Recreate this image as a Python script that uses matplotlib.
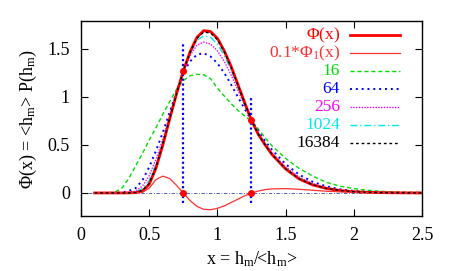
import matplotlib
matplotlib.use("Agg")
import matplotlib.pyplot as plt
from matplotlib.lines import Line2D

x = [0.1, 0.2, 0.25, 0.3, 0.35, 0.4, 0.45, 0.5, 0.55, 0.6, 0.65, 0.7, 0.75, 0.8,
     0.85, 0.9, 0.95, 1.0, 1.05, 1.1, 1.15, 1.2, 1.25, 1.3, 1.35, 1.4, 1.5, 1.6,
     1.7, 1.8, 1.9, 2.0, 2.1, 2.2, 2.3, 2.4, 2.5]

phi = [0, 0, 0, 0, 0.0005, 0.003, 0.02, 0.09, 0.26, 0.5, 0.77, 1.03, 1.27, 1.47,
       1.62, 1.69, 1.68, 1.61, 1.48, 1.32, 1.13, 0.94, 0.755, 0.61, 0.5, 0.40, 0.25, 0.145,
       0.083, 0.046, 0.025, 0.013, 0.007, 0.003, 0.0015, 0.0007, 0.0003]

phi1 = [0, 0, 0, 0, 0, 0, 0.005, 0.05, 0.14, 0.175, 0.15, 0.08, 0.0, -0.08,
        -0.14, -0.17, -0.175, -0.16, -0.135, -0.1, -0.065, -0.03, 0.0, 0.02, 0.035, 0.042, 0.045, 0.038,
        0.028, 0.018, 0.011, 0.006, 0.003, 0.0015, 0.0007, 0.0003, 0.0001]

n16 = [0, 0.002, 0.01, 0.05, 0.15, 0.28, 0.41, 0.55, 0.68, 0.82, 0.95, 1.08, 1.17, 1.22,
       1.235, 1.23, 1.19, 1.09, 1.01, 0.93, 0.86, 0.8, 0.75, 0.665, 0.575, 0.49, 0.36, 0.255,
       0.175, 0.11, 0.07, 0.045, 0.028, 0.017, 0.01, 0.006, 0.004]

n64 = [0, 0, 0, 0.005, 0.02, 0.05, 0.13, 0.27, 0.44, 0.63, 0.84, 1.05, 1.25, 1.37,
       1.44, 1.455, 1.42, 1.35, 1.25, 1.13, 1.0, 0.875, 0.755, 0.64, 0.54, 0.45, 0.3, 0.19,
       0.115, 0.068, 0.038, 0.021, 0.011, 0.006, 0.003, 0.0015, 0.0007]

n256 = [0, 0, 0, 0.001, 0.005, 0.02, 0.07, 0.18, 0.35, 0.56, 0.8, 1.04, 1.26, 1.43,
        1.54, 1.57, 1.55, 1.48, 1.37, 1.23, 1.07, 0.91, 0.755, 0.62, 0.515, 0.42, 0.27, 0.165,
        0.097, 0.055, 0.03, 0.016, 0.008, 0.004, 0.002, 0.001, 0.0005]

n1024 = [0, 0, 0, 0, 0.002, 0.01, 0.045, 0.13, 0.3, 0.53, 0.78, 1.035, 1.265, 1.45,
         1.59, 1.635, 1.62, 1.55, 1.43, 1.28, 1.1, 0.925, 0.755, 0.615, 0.505, 0.41, 0.26, 0.155,
         0.09, 0.05, 0.027, 0.014, 0.0075, 0.0035, 0.0017, 0.0008, 0.0004]

n16384 = [0, 0, 0, 0, 0.0007, 0.004, 0.025, 0.1, 0.27, 0.51, 0.775, 1.03, 1.27, 1.465,
          1.61, 1.675, 1.665, 1.595, 1.47, 1.31, 1.125, 0.935, 0.755, 0.612, 0.502, 0.402, 0.252, 0.147,
          0.085, 0.047, 0.026, 0.013, 0.007, 0.003, 0.0015, 0.0007, 0.0003]

labels = [r'$\Phi$(x)', r'0.1*$\Phi_1$(x)', '16', '64', '256', '1024', '16384']
series = [phi, phi1, n16, n64, n256, n1024, n16384]

vline_x = [0.75, 1.25]
vline_top = [1.55, 1.0]
vline_bot = [-0.1, -0.1]
dots_x = [0.75, 1.25, 0.75, 1.25]
dots_y = [1.27, 0.755, 0.0, 0.0]

styles = [
    dict(color='#ff0000', lw=2.0, ls='-', zorder=2.5),
    dict(color='#ff3030', lw=0.9, ls='-', zorder=2.5),
    dict(color='#00e000', lw=1.0, ls=(0, (3, 2)), zorder=2),
    dict(color='#0000ff', lw=1.4, ls=(0, (1, 2)), zorder=2),
    dict(color='#ff00ff', lw=1.0, ls=(0, (1, 1)), zorder=2),
    dict(color='#00e8e8', lw=1.0, ls=(0, (5, 2, 1, 2)), zorder=2),
    dict(color='black', lw=1.0, ls=(0, (2, 2)), zorder=3),
]

plt.rcParams['font.family'] = ['Liberation Serif', 'DejaVu Serif']
plt.rcParams['mathtext.fontset'] = 'custom'
plt.rcParams['mathtext.rm'] = 'Liberation Serif'
plt.rcParams['mathtext.it'] = 'Liberation Serif:italic'

fig = plt.figure(figsize=(4.52, 2.71), dpi=100)
ax = fig.add_axes([81/452, 1-216/271, (422-81)/452, (216-21)/271])

ax.plot([0, 2.5], [0, 0], color='#3050a0', lw=0.6, ls=(0, (4, 2, 1, 2)), zorder=1)

for ys, lab, st in zip(series, labels, styles):
    ax.plot(x, ys, label=lab, **st)

for vx, vt, vb in zip(vline_x, vline_top, vline_bot):
    ax.plot([vx, vx], [vb, vt], color='#0000ff', lw=1.6, ls=(0, (1, 1.2)), zorder=4)
ax.plot(dots_x, dots_y, 'o', color='#ff0000', ms=4, zorder=5)

ax.set_xlim(0, 2.5)
ax.set_ylim(-0.24, 1.79)
ax.set_xticks([0, 0.5, 1, 1.5, 2, 2.5])
ax.set_xticklabels(['0', '0.5', '1', '1.5', '2', '2.5'])
ax.set_yticks([0, 0.5, 1, 1.5])
ax.set_yticklabels(['0', '0.5', '1', '1.5'])
ax.tick_params(direction='in', length=5, width=0.8, top=True, right=True, labelsize=13, pad=8)
for s in ax.spines.values():
    s.set_linewidth(1.0)

ax.set_xlabel(r'x = h$_\mathrm{m}$/<h$_\mathrm{m}$>', fontsize=13, labelpad=4)
ax.set_ylabel(r'$\Phi$(x) = <h$_\mathrm{m}$> P(h$_\mathrm{m}$)', fontsize=13, labelpad=6)

# gnuplot-style key: right-aligned coloured labels, sample line to the right
row_py = [35, 53, 71, 89, 107, 125, 143]
for lab, st, py in zip(labels, styles, row_py):
    yf = (216 - py) / 195
    ax.text((340 - 81) / 341, yf, lab, transform=ax.transAxes,
            ha='right', va='center', fontsize=12.5, color=st['color'])
    ax.add_line(Line2D([(350 - 81) / 341, (400 - 81) / 341], [yf, yf], transform=ax.transAxes,
                       color=st['color'], lw=st['lw'], ls=st['ls']))

fig.savefig('out.png', dpi=100)
